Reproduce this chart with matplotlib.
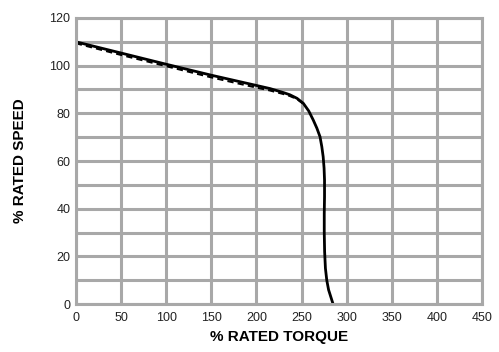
import matplotlib
matplotlib.use("Agg")
import matplotlib.pyplot as plt
import numpy as np

# Solid curve (torque %, speed %)
torque_solid = [0, 50, 100, 150, 193, 215, 230, 237, 245, 252, 258, 263, 267, 270.5, 272.5, 274, 275, 275.5, 275.5, 275.2, 275.2, 275.6, 276.5, 278, 280, 282.5, 285]
speed_solid  = [110, 105.3, 100.6, 96.0, 92.3, 90.4, 88.7, 87.8, 86.3, 84.2, 81.0, 77.2, 73.8, 70.2, 66.0, 61.8, 57, 52, 45, 38, 30, 22, 15, 10, 6, 3, 0]
# Dashed curve (slightly below in linear region, merges with solid near the knee)
torque_dash = [0, 50, 100, 150, 193, 215, 230, 237, 245, 252]
speed_dash  = [109.4, 104.5, 99.8, 95.1, 91.4, 89.6, 88.1, 87.3, 86.0, 84.0]

x_ticks = [0, 50, 100, 150, 200, 250, 300, 350, 400, 450]
y_ticks = [0, 20, 40, 60, 80, 100, 120]

fig = plt.figure(figsize=(4.99, 3.52), dpi=100)
ax = fig.add_axes([0.152, 0.136, 0.814, 0.813])

ax.set_xlim(0, 450)
ax.set_ylim(0, 120)
ax.set_xticks(x_ticks)
ax.set_yticks(y_ticks)
ax.set_xticks(np.arange(0, 451, 50), minor=True)
ax.set_yticks(np.arange(0, 121, 10), minor=True)
ax.grid(True, which='both', color='#a8a8a8', linewidth=2.2)
ax.set_axisbelow(True)
for s in ax.spines.values():
    s.set_color('#a8a8a8')
    s.set_linewidth(2.2)
ax.tick_params(which='both', length=0)
ax.tick_params(axis='x', pad=6)
ax.tick_params(axis='y', pad=4)
for lab in ax.get_xticklabels() + ax.get_yticklabels():
    lab.set_fontsize(9)
    lab.set_color('#222222')
    lab.set_fontfamily('Liberation Sans')

ax.plot(torque_dash, speed_dash, color='black', linewidth=1.5, linestyle=(0, (3, 2)))
ax.plot(torque_solid, speed_solid, color='black', linewidth=2.0, solid_joinstyle='round')

ax.set_xlabel('% RATED TORQUE', fontsize=11, fontweight='bold', family='Liberation Sans', labelpad=4)
ax.set_ylabel('% RATED SPEED', fontsize=11, fontweight='bold', family='Liberation Sans', labelpad=16)

fig.savefig('out.png', dpi=100)
